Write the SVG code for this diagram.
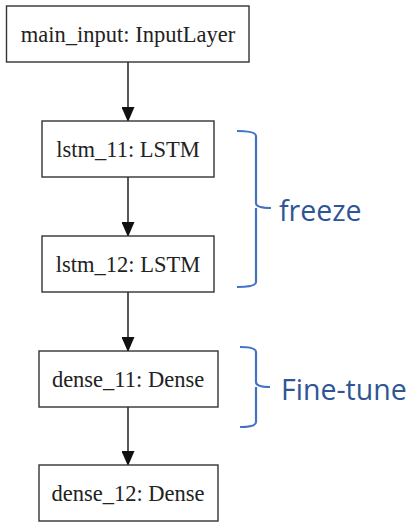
<svg xmlns="http://www.w3.org/2000/svg" width="412" height="522" viewBox="0 0 412 522">
<style>
.box{fill:#fff;stroke:#333;stroke-width:1.4}
.lbl{font-family:"Liberation Serif","Times New Roman",serif;font-size:22.5px;fill:#222;text-anchor:middle}
.edge{stroke:#111;stroke-width:1.4;fill:none}
.brace{stroke:#4472c4;stroke-width:2.2;fill:none;stroke-linejoin:round}
.note{font-family:"Open Sans","Noto Sans",sans-serif;font-size:28.5px;fill:#2f5597}
</style>
<defs>
<marker id="ah" markerWidth="15" markerHeight="13" refX="14" refY="6.5" orient="auto" markerUnits="userSpaceOnUse" viewBox="0 0 15 13">
<path d="M0,0 L15,6.5 L0,13 Z" fill="#111"/>
</marker>
</defs>
<g id="connectors">
<line class="edge" x1="128" y1="62" x2="128" y2="121" marker-end="url(#ah)"/>
<line class="edge" x1="128" y1="177" x2="128" y2="236" marker-end="url(#ah)"/>
<line class="edge" x1="128" y1="292" x2="128" y2="351" marker-end="url(#ah)"/>
<line class="edge" x1="128" y1="407" x2="128" y2="465" marker-end="url(#ah)"/>
</g>
<g id="main_input">
<rect class="box" x="6.5" y="6" width="242.5" height="56"/>
<text class="lbl" x="128" y="41.5">main_input: InputLayer</text>
</g>
<g id="lstm_11">
<rect class="box" x="42" y="121" width="172" height="56"/>
<text class="lbl" x="128" y="156.5">lstm_11: LSTM</text>
</g>
<g id="lstm_12">
<rect class="box" x="42" y="236" width="172" height="56"/>
<text class="lbl" x="128" y="271.5">lstm_12: LSTM</text>
</g>
<g id="dense_11">
<rect class="box" x="39" y="351" width="179" height="56"/>
<text class="lbl" x="128" y="386.5">dense_11: Dense</text>
</g>
<g id="dense_12">
<rect class="box" x="39" y="465" width="179" height="56"/>
<text class="lbl" x="128" y="500.5">dense_12: Dense</text>
</g>
<g id="freeze">
<path class="brace" d="M237,131 Q256,131 256,136 L256,203 Q256,208 271,208 M256,208 Q256,213 256,215 L256,282 Q256,287 237,287"/>
<text class="note" x="279" y="221">freeze</text>
</g>
<g id="finetune">
<path class="brace" d="M240,347 Q256,347 256,352 L256,382 Q256,387 270,387 M256,387 L256,422 Q256,427 240,427"/>
<text class="note" x="281" y="400">Fine-tune</text>
</g>
</svg>
